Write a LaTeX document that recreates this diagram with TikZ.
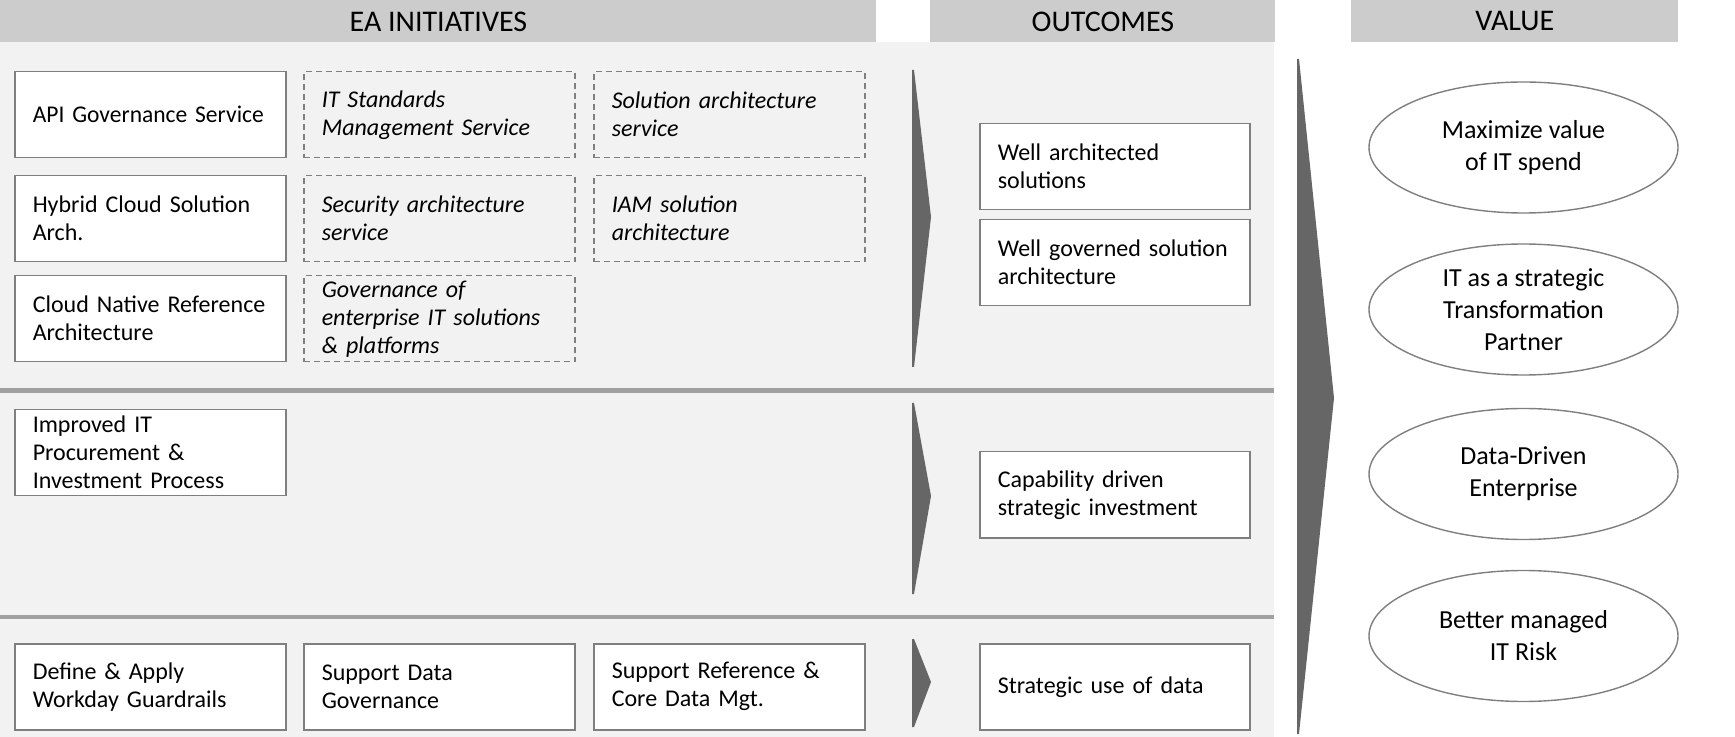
\documentclass[tikz,border=0pt]{standalone}
\usepackage{graphicx}
\usepackage{fontspec}
\setmainfont{Carlito}
\usetikzlibrary{shapes.geometric,backgrounds}
\definecolor{headgray}{HTML}{CCCCCC}
\definecolor{bandgray}{HTML}{F2F2F2}
\definecolor{rulegray}{HTML}{A0A0A0}
\definecolor{arrowgray}{HTML}{666666}
\definecolor{boxline}{HTML}{7F7F7F}
\newcommand\nohyph{\hyphenpenalty=10000\relax\exhyphenpenalty=10000\relax}

\begin{document}
\begin{tikzpicture}[x=0.5pt,y=-0.5pt,font=\fontsize{12}{14}\selectfont,
head/.style={fill=headgray, anchor=north west, inner sep=0pt, minimum height=21pt,
    font=\fontsize{15}{18}\selectfont},
initbox/.style={draw=boxline, line width=0.75pt, fill=white, anchor=north west,
    align=left, text width=117.5pt, inner xsep=9pt, inner ysep=1pt, minimum height=43pt,
    execute at begin node=\nohyph},
ideabox/.style={initbox, fill=none, dash pattern=on 3pt off 2pt,
    font=\fontsize{12}{14}\selectfont\itshape},
outbox/.style={initbox, text width=117pt},
valnode/.style={ellipse, draw=boxline, line width=0.7pt, fill=white, inner sep=0pt,
    minimum width=154.5pt, minimum height=65.5pt, align=center,
    font=\fontsize{13}{16}\selectfont}]
\useasboundingbox (0,0) rectangle (1735,737);

% column headers
\node[head, minimum width=438pt] (hinit) at (0,0) {EA INITIATIVES};
\node[head, minimum width=172.5pt] (hout) at (930,0) {OUTCOMES};
\node[head, minimum width=163.5pt] (hval) at (1351,0) {VALUE};

% band 1
\node[initbox] (api) at (14,71) {\scalebox{0.98}[1]{API Governance Service}};
\node[ideabox] (itstd) at (303,71) {IT Standards\\Management Service};
\node[ideabox] (solarch) at (593,71) {Solution architecture\\service};
\node[initbox] (hybrid) at (14,175) {Hybrid Cloud Solution\\Arch.};
\node[ideabox] (secarch) at (303,175) {Security architecture\\service};
\node[ideabox] (iam) at (593,175) {IAM solution\\architecture};
\node[initbox] (cloudnat) at (14,275) {Cloud Native Reference\\Architecture};
\node[ideabox] (goven) at (303,275) {Governance of\\enterprise IT solutions\\\& platforms};
\node[outbox] (wellarch) at (979,123) {Well architected\\solutions};
\node[outbox] (wellgov) at (979,219) {Well governed solution\\architecture};

% band 2
\node[initbox] (procure) at (14,409) {Improved IT\\Procurement \&\\Investment Process};
\node[outbox] (capinv) at (979,451) {Capability driven\\strategic investment};

% band 3
\node[initbox] (guardrails) at (14,643) {Define \& Apply\\Workday Guardrails};
\node[initbox] (datagov) at (303,643) {Support Data\\Governance};
\node[initbox] (refdata) at (593,643) {Support Reference \&\\Core Data Mgt.};
\node[outbox] (datause) at (979,643) {Strategic use of data};

% value
\node[valnode] (val1) at (1523.5,147.5) {Maximize value\\of IT spend};
\node[valnode] (val2) at (1523.5,309.5) {IT as a strategic\\Transformation\\Partner};
\node[valnode] (val3) at (1523.5,474) {Data-Driven\\Enterprise};
\node[valnode] (val4) at (1523.5,636) {Better managed\\IT Risk};

\begin{scope}[on background layer]
\fill[bandgray] (0,42) rectangle (1274,737);
\draw[rulegray, line width=2.25pt] (0,390.5) -- (1274,390.5);
\draw[rulegray, line width=2.25pt] (0,617) -- (1274,617);
\foreach \t/\m/\b in {70/217/367, 403/496/594, 639/682/727}
  \fill[arrowgray] (912,\t) -- (914,\t) -- (931,\m) -- (914,\b) -- (912,\b) -- cycle;
\fill[arrowgray] (1297,59) -- (1299,59) -- (1334,398) -- (1299,734) -- (1297,734) -- cycle;
\end{scope}
\end{tikzpicture}
\end{document}
